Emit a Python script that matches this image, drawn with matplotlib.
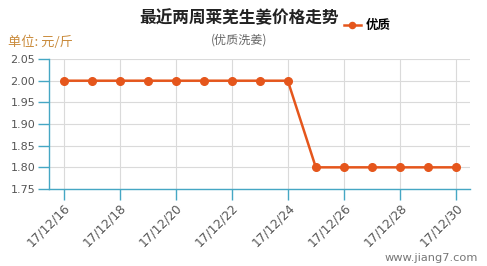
import matplotlib
matplotlib.use('Agg')
import matplotlib.pyplot as plt
import numpy as np

plt.rcParams['font.family'] = ['Noto Sans CJK SC', 'DejaVu Sans']

dates = ['17/12/16', '17/12/17', '17/12/18', '17/12/19', '17/12/20', '17/12/21',
         '17/12/22', '17/12/23', '17/12/24', '17/12/25', '17/12/26', '17/12/27',
         '17/12/28', '17/12/29', '17/12/30']
prices = [2.00, 2.00, 2.00, 2.00, 2.00, 2.00, 2.00, 2.00, 2.00,
          1.80, 1.80, 1.80, 1.80, 1.80, 1.80]
series_name = '优质'
yticks = [1.75, 1.80, 1.85, 1.90, 1.95, 2.00, 2.05]

line_color = '#E5561C'
axis_color = '#45A7C4'
text_color = '#555555'

fig = plt.figure(figsize=(4.87, 2.66), dpi=100)
ax = fig.add_axes([0.1006, 0.2895, 0.8644, 0.4885])

x = np.arange(len(dates))
line, = ax.plot(x, prices, color=line_color, linewidth=1.8, marker='o',
                markersize=5.5, zorder=3, clip_on=False)

ax.set_xlim(-0.52, 14.5)
ax.set_ylim(1.75, 2.05)
ax.set_yticks(yticks)
ax.set_yticklabels([f'{v:.2f}' for v in yticks], fontsize=8, color=text_color,
                   family='DejaVu Sans')
tick_pos = x[::2]
ax.set_xticks(tick_pos)
ax.set_xticklabels([dates[i] for i in tick_pos], rotation=45, ha='right',
                   rotation_mode='anchor', fontsize=8.8, color=text_color,
                   family='DejaVu Sans')

ax.grid(True, color='#DADADA', linewidth=0.8)
ax.set_axisbelow(True)
for side in ['top', 'right']:
    ax.spines[side].set_visible(False)
for side in ['left', 'bottom']:
    ax.spines[side].set_color(axis_color)
    ax.spines[side].set_linewidth(1.0)
ax.tick_params(axis='both', color=axis_color, length=8, width=1.0, pad=2)
ax.tick_params(axis='x', pad=0.5)

fig.text(0.49, 0.932, '最近两周莱芜生姜价格走势', ha='center', va='center',
         fontsize=12, fontweight='bold', color='#222222')
fig.text(0.49, 0.85, '(优质洗姜)', ha='center', va='center',
         fontsize=8.7, color='#666666')
fig.text(0.016, 0.842, '单位: 元/斤', ha='left', va='center',
         fontsize=9.5, color='#C98A3A')
fig.legend([line], [series_name], loc='center left',
           bbox_to_anchor=(0.706, 0.904), frameon=False,
           prop={'size': 9, 'weight': 'bold'}, handlelength=1.35,
           handletextpad=0.4, borderaxespad=0, borderpad=0, markerscale=0.8)
fig.text(0.982, 0.03, 'www.jiang7.com', ha='right', va='center',
         fontsize=8.2, color='#777777', family='DejaVu Sans')

fig.savefig('out.png', dpi=100)
